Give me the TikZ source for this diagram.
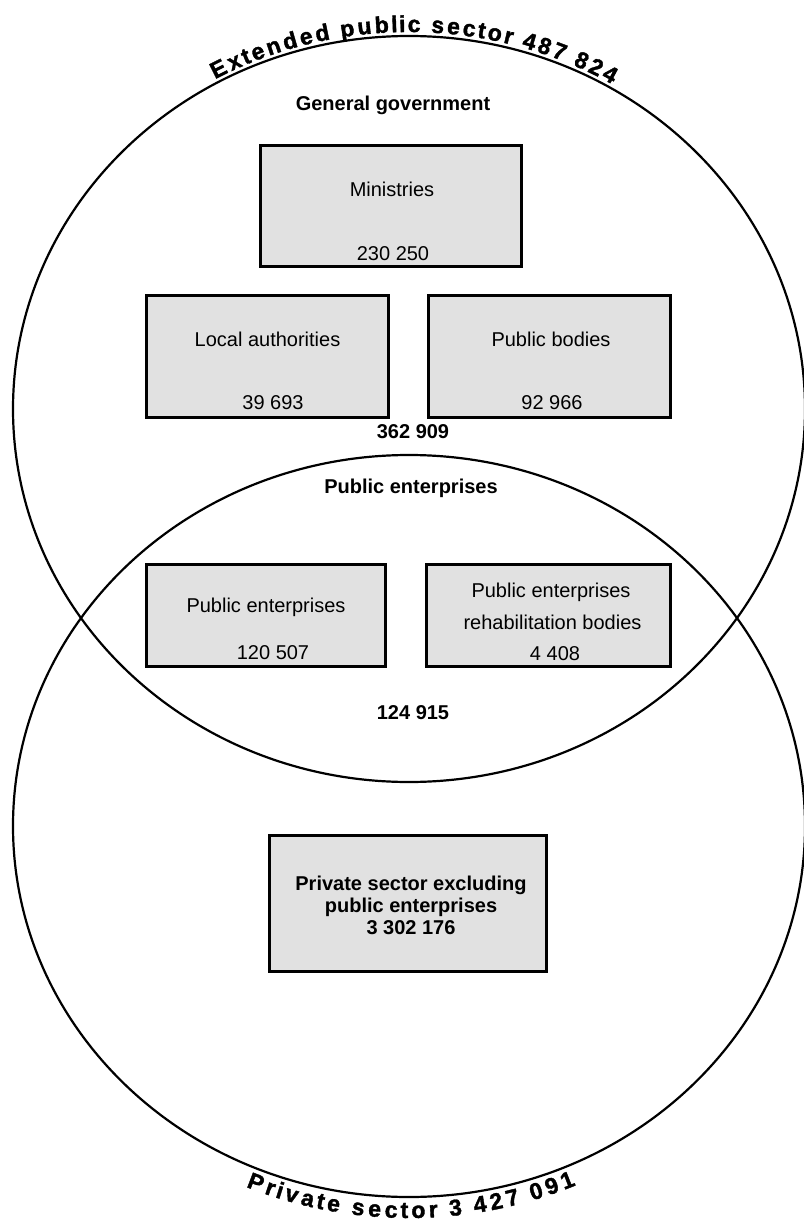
\documentclass[tikz,border=0pt]{standalone}
\usepackage{fontspec}
\setmainfont{Liberation Sans}
\newfontfamily\heavyfont[BoldFont={Liberation Sans Bold}, BoldFeatures={FakeBold=1.6}]{Liberation Sans}
\usetikzlibrary{decorations.text}
\definecolor{boxgray}{RGB}{225,225,225}
\newcommand\arcfont{\heavyfont\fontsize{23}{27}\selectfont\bfseries}
\begin{document}
\begin{tikzpicture}[x=1pt,y=-1pt,
  bx/.style={draw=black, line width=3.5pt, fill=boxgray, inner sep=0pt},
  lbl/.style={font=\fontsize{20}{24}\selectfont, inner sep=0pt},
  blbl/.style={font=\fontsize{20}{24}\selectfont\bfseries, inner sep=0pt},
  ring/.style={draw=black, line width=2.2pt},
  arctext/.style={font=\arcfont}]
\useasboundingbox (0,0) rectangle (803,1222);
\coordinate (c1) at (409,409);
\coordinate (c2) at (409,826);
\draw[ring] (c1) ellipse [x radius=396pt, y radius=373pt];
\draw[ring] (c2) ellipse [x radius=396pt, y radius=371pt];

% curved labels
\path (c1) ++(119:400pt and 377pt) coordinate (ts);
\path[arctext, decorate, decoration={text effects along path,
  text={Extended public sector 487 824},
  text effects/.cd, text along path, fit text to path,
  characters={font=\arcfont}}]
  (ts) arc[start angle=119, end angle=59.5, x radius=400pt, y radius=377pt];
\path (c2) ++(247:417pt and 392pt) coordinate (bs);
\path[arctext, decorate, decoration={text effects along path,
  text={Private sector  3 427 091},
  text effects/.cd, text along path, fit text to path,
  characters={font=\arcfont}}]
  (bs) arc[start angle=247, end angle=293.6, x radius=417pt, y radius=392pt];

% general government
\node[blbl] (gg) at (393,105) {General government};
\node[bx, minimum width=261pt, minimum height=121pt] (min) at (391,206) {};
\node[lbl] (minT) at (392,189) {Ministries};
\node[lbl] (minN) at (393,254) {230 250};
\node[bx, minimum width=242pt, minimum height=122pt] (loc) at (267.5,356.5) {};
\node[lbl] (locT) at (267.5,339) {Local authorities};
\node[lbl] (locN) at (273,403) {39 693};
\node[bx, minimum width=242pt, minimum height=122pt] (pb) at (549.5,356.5) {};
\node[lbl] (pbT) at (551,339) {Public bodies};
\node[lbl] (pbN) at (552,403) {92 966};
\node[blbl] (ggN) at (413,432) {362 909};

% public enterprises
\node[blbl] (pe) at (411,488) {Public enterprises};
\node[bx, minimum width=239pt, minimum height=102pt] (peb) at (266,615.5) {};
\node[lbl] (pebT) at (266,607) {Public enterprises};
\node[lbl] (pebN) at (273,653) {120 507};
\node[bx, minimum width=244pt, minimum height=102pt] (reh) at (548.5,615.5) {};
\node[lbl] (rehT1) at (551,592) {Public enterprises};
\node[lbl] (rehT2) at (552.5,622) {rehabilitation bodies};
\node[lbl] (rehN) at (555,654) {4 408};
\node[blbl] (peN) at (413,713) {124 915};

% private sector
\node[bx, minimum width=277pt, minimum height=136pt] (prv) at (408,903.5) {};
\node[blbl, align=center, font=\fontsize{20}{22}\selectfont\bfseries] (prvT) at (411,905)
  {Private sector excluding\\public enterprises\\3 302 176};
\end{tikzpicture}
\end{document}
